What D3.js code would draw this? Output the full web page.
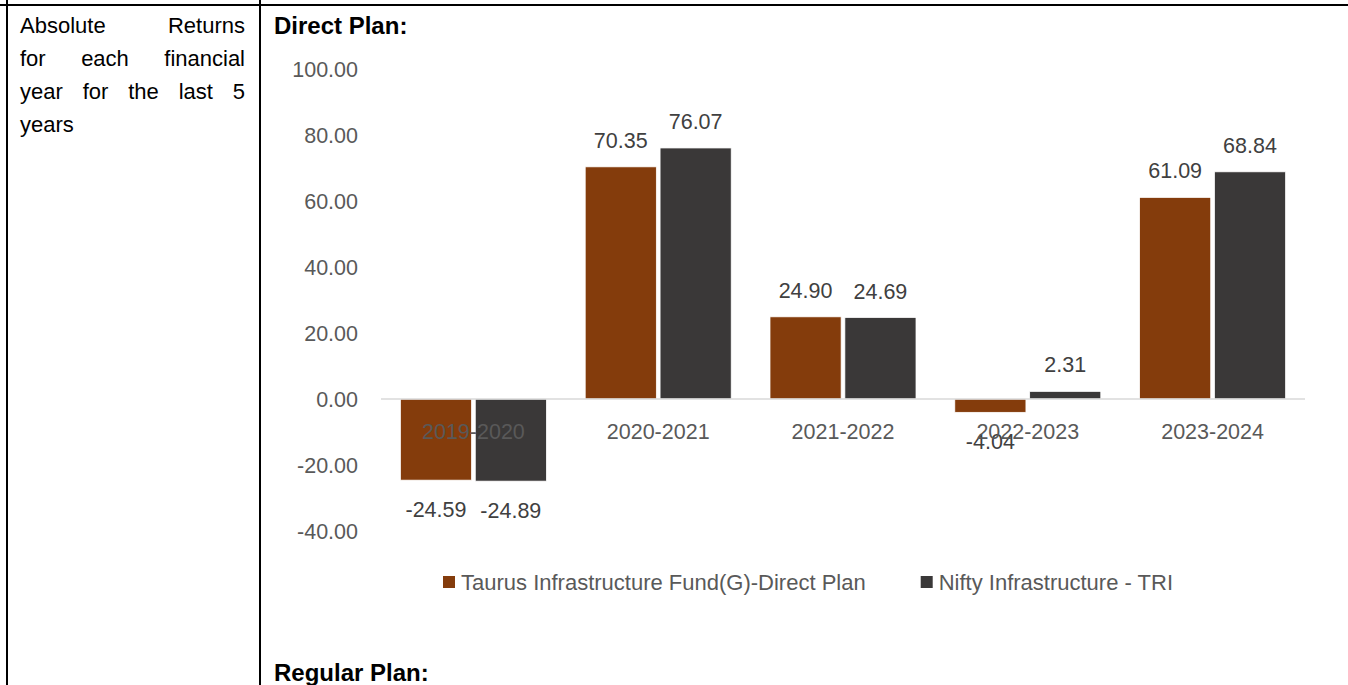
<!DOCTYPE html>
<html>
<head>
<meta charset="utf-8">
<script src="https://cdn.jsdelivr.net/npm/d3@7"></script>
<style>
  body { margin: 0; background: #fff; }
  svg { display: block; font-family: "Liberation Sans", Arial, sans-serif; }
</style>
</head>
<body>
<svg id="chart" width="1348" height="685"></svg>
<script>
// data
var years = ["2019-2020", "2020-2021", "2021-2022", "2022-2023", "2023-2024"];
var seriesNames = ["Taurus Infrastructure Fund(G)-Direct Plan", "Nifty Infrastructure - TRI"];
var fundReturns = [-24.59, 70.35, 24.90, -4.04, 61.09];
var niftyReturns = [-24.89, 76.07, 24.69, 2.31, 68.84];
var yTicks = [-40, -20, 0, 20, 40, 60, 80, 100];
var colors = ["#843C0C", "#3A3838"];
var leftLines = [["Absolute", "Returns"], ["for", "each", "financial"], ["year", "for", "the", "last", "5"], ["years"]];

var fmt = d3.formatLocale({ decimal: ".", thousands: ",", grouping: [3], currency: ["", ""], minus: "-" }).format(".2f");

var svg = d3.select("#chart");

// table borders
svg.append("line").attr("x1", 7).attr("x2", 7).attr("y1", 0).attr("y2", 685)
  .attr("stroke", "#000").attr("stroke-width", 2);
svg.append("line").attr("x1", 260).attr("x2", 260).attr("y1", 0).attr("y2", 685)
  .attr("stroke", "#000").attr("stroke-width", 2);
svg.append("line").attr("x1", 0).attr("x2", 1348).attr("y1", 5).attr("y2", 5)
  .attr("stroke", "#000").attr("stroke-width", 2);

// left cell, justified text
var leftG = svg.append("g").style("font-size", "22px").attr("fill", "#000");
var cellL = 20, cellR = 245;
leftLines.forEach(function (words, li) {
  var y = 33 + li * 33;
  var nodes = words.map(function (w) {
    return leftG.append("text").attr("y", y).text(w);
  });
  var widths = nodes.map(function (n) { return n.node().getComputedTextLength(); });
  var total = d3.sum(widths);
  var last = li === leftLines.length - 1;
  var gap = (!last && words.length > 1) ? (cellR - cellL - total) / (words.length - 1) : 6;
  var x = cellL;
  nodes.forEach(function (n, i) {
    n.attr("x", x);
    x += widths[i] + gap;
  });
});

svg.append("text").attr("x", 274).attr("y", 34).text("Direct Plan:")
  .style("font-size", "24px").style("font-weight", "bold");
svg.append("text").attr("x", 274).attr("y", 681).text("Regular Plan:")
  .style("font-size", "24px").style("font-weight", "bold");

// chart
var plotL = 381, plotR = 1305;
var y = d3.scaleLinear().domain([-40, 100]).range([531, 69]);
var x0 = d3.scaleBand().domain(years).range([plotL, plotR]).paddingInner(0.21).paddingOuter(0.105);
var x1 = d3.scaleBand().domain([0, 1]).range([0, x0.bandwidth()]).paddingInner(0.05);

var axis = d3.axisLeft(y).tickValues(yTicks).tickFormat(fmt).tickSize(0).tickPadding(0);
var ag = svg.append("g").attr("transform", "translate(358,0)").call(axis);
ag.select(".domain").remove();
ag.selectAll("text").attr("fill", "#595959").style("font-size", "21.5px")
  .style("font-family", '"Liberation Sans", Arial, sans-serif').attr("dy", "0.35em");

var rows = years.map(function (yr, i) {
  return { year: yr, vals: [fundReturns[i], niftyReturns[i]] };
});

var groups = svg.append("g").selectAll("g").data(rows).enter().append("g")
  .attr("transform", function (d) { return "translate(" + x0(d.year) + ",0)"; });

groups.selectAll("rect").data(function (d) { return d.vals.map(function (v, k) { return { v: v, k: k }; }); })
  .enter().append("rect")
  .attr("x", function (d) { return x1(d.k); })
  .attr("width", x1.bandwidth())
  .attr("y", function (d) { return y(Math.max(0, d.v)); })
  .attr("height", function (d) { return Math.abs(y(d.v) - y(0)); })
  .attr("fill", function (d) { return colors[d.k]; })
  .attr("stroke", "#fff").attr("stroke-width", 0.75);

// zero line
svg.append("line").attr("x1", plotL).attr("x2", plotR).attr("y1", y(0)).attr("y2", y(0))
  .attr("stroke", "#d9d9d9").attr("stroke-width", 1.5);

// category labels
svg.append("g").selectAll("text").data(years).enter().append("text")
  .attr("x", function (d) { return x0(d) + x0.bandwidth() / 2; })
  .attr("y", y(0) + 40)
  .attr("text-anchor", "middle").attr("fill", "#595959").style("font-size", "21.5px")
  .text(function (d) { return d; });

// value labels
groups.selectAll("text.val").data(function (d) { return d.vals.map(function (v, k) { return { v: v, k: k }; }); })
  .enter().append("text").attr("class", "val")
  .attr("x", function (d) { return x1(d.k) + x1.bandwidth() / 2; })
  .attr("y", function (d) { return d.v >= 0 ? y(d.v) - 19 : y(d.v) + 37; })
  .attr("text-anchor", "middle").attr("fill", "#404040").style("font-size", "21.5px")
  .text(function (d) { return fmt(d.v); });

// legend
var lg = svg.append("g").attr("transform", "translate(443,582)");
var lx = 0;
seriesNames.forEach(function (name, i) {
  lg.append("rect").attr("x", lx).attr("y", -6).attr("width", 12).attr("height", 12).attr("fill", colors[i]);
  var t = lg.append("text").attr("x", lx + 18).attr("y", 0).attr("dy", "0.35em")
    .attr("fill", "#595959").style("font-size", "22px").text(name);
  lx += 18 + t.node().getComputedTextLength() + 55;
});
</script>
</body>
</html>
